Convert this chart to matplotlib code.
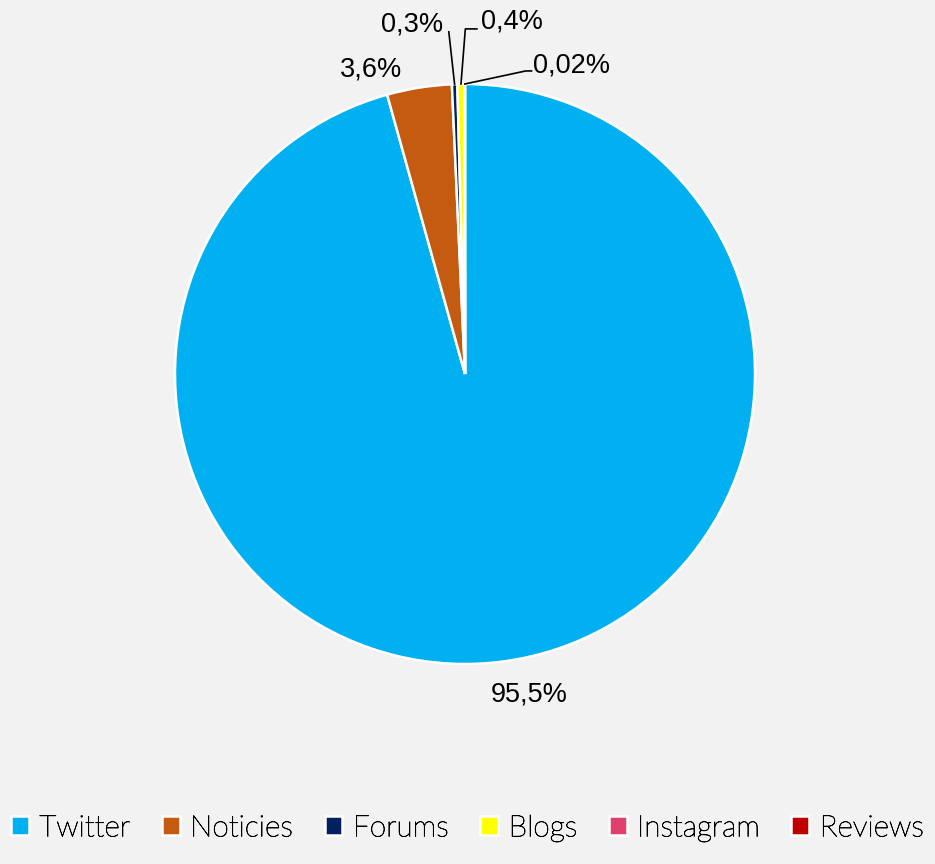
import matplotlib
matplotlib.use("Agg")
import matplotlib.pyplot as plt
import matplotlib.patheffects as pe
import numpy as np

categories = ["Twitter", "Noticies", "Forums", "Blogs", "Instagram", "Reviews"]
values = [95.5, 3.6, 0.3, 0.4, 0.02, 0.0]
labels = ["95,5%", "3,6%", "0,3%", "0,4%", "0,02%", ""]
colors = ["#00b0f0", "#c55a11", "#002060", "#ffff00", "#e0406e", "#c00000"]

W, H = 935, 864
cx, cy, R = 465, 374, 290
fig = plt.figure(figsize=(W / 100, H / 100), dpi=100, facecolor="#f2f2f2")
ax = fig.add_axes([0, 0, 1, 1])
ax.set_facecolor("#f2f2f2")

wedges, _ = ax.pie(values, colors=colors, startangle=90, counterclock=False,
                   radius=1, wedgeprops=dict(edgecolor="white", linewidth=1.8))
ax.set_aspect("auto")
ax.set_xlim(-cx / R, (W - cx) / R)
ax.set_ylim(-(H - cy) / R, cy / R)
ax.axis("off")

lab_font = dict(family=["Liberation Sans", "DejaVu Sans"], fontsize=19.5, color="#000000")

def mid(w):
    a = np.deg2rad((w.theta1 + w.theta2) / 2)
    return np.cos(a), np.sin(a)

# Twitter label
x, y = mid(wedges[0])
ax.text(x * 1.11 + 0.07, y * 1.11 - 0.005, labels[0], ha="center", va="center", **lab_font)
# Noticies label
x, y = mid(wedges[1])
ax.text(x * 1.1 - 0.15, y * 1.1 - 0.035, labels[1], ha="center", va="center", **lab_font)

# Forums: leader line up to text on the left
x, y = mid(wedges[2])
ax.plot([x, x - 0.02], [y, 1.18], color="black", lw=1.2)
ax.text(x - 0.04, 1.205, labels[2], ha="right", va="center", **lab_font)

# Blogs: leader line up then right
x, y = mid(wedges[3])
ax.plot([x, x + 0.015, x + 0.055], [y, 1.19, 1.19], color="black", lw=1.2)
ax.text(x + 0.07, 1.217, labels[3], ha="left", va="center", **lab_font)

# Instagram: leader line to the right
x, y = mid(wedges[4])
ax.plot([x, x + 0.21, x + 0.23], [y, 1.045, 1.045], color="black", lw=1.2)
ax.text(x + 0.235, 1.065, labels[4], ha="left", va="center", **lab_font)

leg = fig.legend(wedges, categories, loc="lower center", bbox_to_anchor=(0.5, -0.005),
                 ncol=6, frameon=False, handlelength=0.6, handleheight=0.6,
                 handletextpad=0.35, columnspacing=1.05, labelcolor="black",
                 prop=dict(family=["Lato", "DejaVu Sans"], weight="light", size=21.5))
for t in leg.get_texts():
    t.set_path_effects([pe.withStroke(linewidth=0.5, foreground="black")])

fig.savefig("out.png", dpi=100, facecolor="#f2f2f2")
